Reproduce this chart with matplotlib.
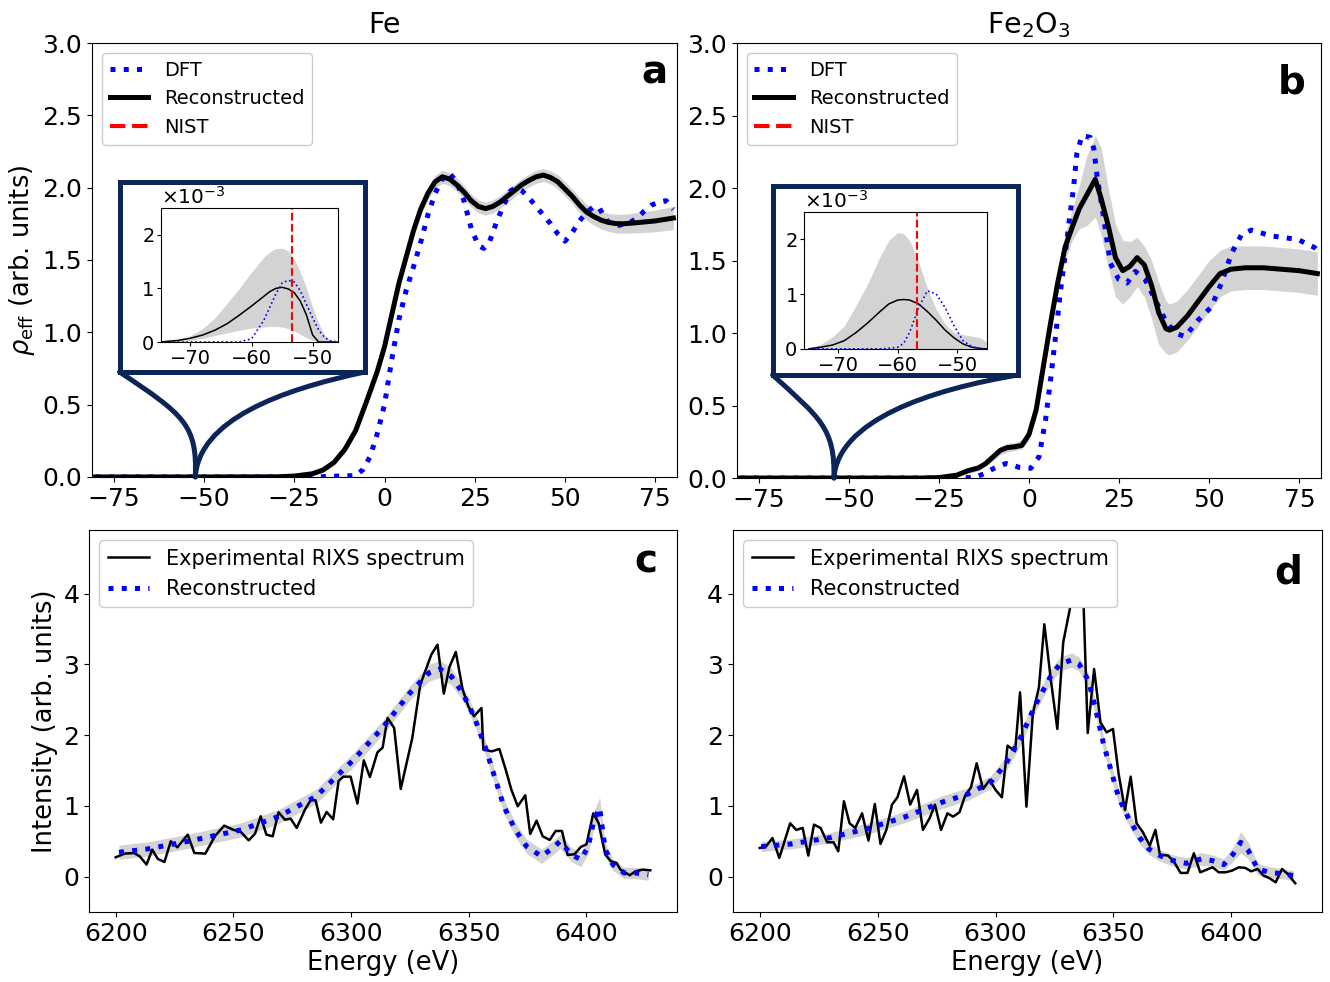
import numpy as np
import matplotlib
matplotlib.use('Agg')
import matplotlib.pyplot as plt
from matplotlib.patches import Rectangle, PathPatch
from matplotlib.path import Path
from matplotlib.lines import Line2D

plt.rcParams['font.family'] = ['DejaVu Sans']

# ---------------- Panel a : Fe ----------------
fe_x = [-80, -50, -30, -25, -20, -17, -14, -11, -8, -5, -2, 0, 2, 4, 6, 8, 10, 12, 14, 16,
        18, 20, 22, 24, 26, 28, 30, 32, 34, 36, 38, 40, 42, 44, 46, 48, 50, 52, 54, 56,
        58, 60, 62, 64, 66, 70, 75, 80]
fe_rec = [0, 0, 0.001, 0.006, 0.022, 0.048, 0.1, 0.19, 0.32, 0.52, 0.73, 0.9, 1.12, 1.34, 1.52,
          1.7, 1.85, 1.96, 2.04, 2.075, 2.06, 2.02, 1.97, 1.91, 1.87, 1.855, 1.87, 1.9, 1.94,
          1.98, 2.02, 2.05, 2.075, 2.087, 2.07, 2.04, 1.99, 1.94, 1.88, 1.83, 1.8, 1.775,
          1.76, 1.752, 1.75, 1.758, 1.77, 1.79]
fe_band = [0, 0, 0, 0.003, 0.008, 0.01, 0.015, 0.02, 0.02, 0.025, 0.03, 0.03, 0.035, 0.035,
           0.04, 0.04, 0.04, 0.045, 0.045, 0.045, 0.045, 0.045, 0.045, 0.045, 0.045, 0.045,
           0.045, 0.045, 0.045, 0.045, 0.045, 0.045, 0.045, 0.045, 0.045, 0.05, 0.05, 0.05,
           0.055, 0.055, 0.06, 0.06, 0.062, 0.065, 0.065, 0.07, 0.075, 0.08]
fe_dft_x = [-80, -20, -8, -6, -4, -2, 0, 2, 4, 6, 8, 10, 12, 14, 16, 18, 20, 22, 24, 26,
            27.5, 29, 31, 33, 35, 36.5, 38, 40, 42, 44, 46, 48, 50, 52, 54, 56, 58, 59.5,
            61, 63, 65, 68, 70, 72, 74, 76, 78, 80]
fe_dft = [0, 0, 0.01, 0.05, 0.14, 0.3, 0.5, 0.81, 1.09, 1.29, 1.45, 1.62, 1.81, 1.96, 2.06,
          2.1, 2.04, 1.91, 1.72, 1.6, 1.58, 1.62, 1.76, 1.88, 1.98, 2.0, 1.98, 1.93, 1.87,
          1.81, 1.75, 1.68, 1.63, 1.69, 1.77, 1.83, 1.87, 1.86, 1.79, 1.74, 1.74, 1.76,
          1.79, 1.84, 1.88, 1.9, 1.91, 1.85]

# inset a (values in units of 1e-3)
ins_a_x = [-75, -72, -70, -68, -66, -64, -62, -60, -58, -57, -56, -55, -54, -53, -52, -51,
           -50, -49, -48, -47, -46]
ins_a_rec = [0, 0.03, 0.07, 0.13, 0.22, 0.34, 0.5, 0.67, 0.85, 0.94, 1.0, 1.02, 0.99, 0.92,
             0.76, 0.5, 0.13, 0, 0, 0, 0]
ins_a_hi = [0, 0.05, 0.12, 0.25, 0.45, 0.72, 1.0, 1.3, 1.58, 1.68, 1.74, 1.75, 1.7, 1.55,
            1.3, 1.0, 0.65, 0.35, 0.12, 0.02, 0]
ins_a_lo = [0, 0.01, 0.03, 0.07, 0.12, 0.17, 0.22, 0.26, 0.28, 0.29, 0.29, 0.28, 0.25, 0.2,
            0.14, 0.08, 0.03, 0, 0, 0, 0]
ins_a_dft = [0, 0, 0, 0, 0, 0, 0, 0.06, 0.4, 0.65, 0.9, 1.1, 1.15, 1.12, 0.95, 0.7, 0.45,
             0.22, 0.08, 0.02, 0]
nist_a = -53.3
tip_a = -52.4

# ---------------- Panel b : Fe2O3 ----------------
fo_x = [-80, -30, -25, -20, -17, -14, -12, -10, -8, -6, -4, -2, 0, 2, 4, 6, 8, 10, 12, 14,
        16, 18.4, 20, 22, 24, 26, 28, 30, 32, 34, 36, 38, 39, 41, 44, 47, 50, 53, 56, 60,
        65, 70, 75, 80]
fo_rec = [0, 0, 0.003, 0.02, 0.05, 0.07, 0.1, 0.145, 0.19, 0.21, 0.215, 0.225, 0.3, 0.47,
          0.77, 1.07, 1.35, 1.59, 1.73, 1.86, 1.95, 2.06, 1.93, 1.74, 1.52, 1.43, 1.46, 1.52,
          1.47, 1.33, 1.14, 1.03, 1.02, 1.04, 1.12, 1.22, 1.32, 1.41, 1.44, 1.45, 1.45, 1.44,
          1.43, 1.41]
fo_lo = [0, 0, 0, 0.01, 0.03, 0.05, 0.08, 0.12, 0.16, 0.18, 0.19, 0.2, 0.26, 0.42, 0.7, 1.0,
         1.28, 1.5, 1.64, 1.72, 1.74, 1.8, 1.68, 1.45, 1.25, 1.2, 1.25, 1.32, 1.25, 1.1, 0.92,
         0.86, 0.85, 0.87, 0.95, 1.05, 1.15, 1.25, 1.29, 1.3, 1.3, 1.29, 1.28, 1.26]
fo_hi = [0, 0, 0.01, 0.03, 0.07, 0.09, 0.12, 0.17, 0.22, 0.24, 0.245, 0.26, 0.34, 0.53, 0.84,
         1.15, 1.43, 1.68, 1.85, 2.02, 2.22, 2.36, 2.28, 2.0, 1.75, 1.64, 1.63, 1.66, 1.6, 1.5,
         1.35, 1.22, 1.2, 1.22, 1.3, 1.4, 1.5, 1.57, 1.6, 1.6, 1.6, 1.59, 1.58, 1.56]
fo_dft_x = [-80, -20, -15, -12.4, -9.7, -6.4, -4, -2.8, 0.5, 2.8, 4.6, 6, 7.4, 8.7, 10.1, 11,
            12.4, 13.3, 14.7, 17, 18, 18.9, 20.7, 22.6, 24.9, 27.2, 29.5, 32.2, 35, 37.8,
            40.5, 43.3, 47, 50.6, 53.4, 56.2, 59, 61.7, 67.2, 74.6, 79.2, 80]
fo_dft = [0, 0, 0.005, 0.03, 0.067, 0.10, 0.085, 0.074, 0.067, 0.147, 0.40, 0.68, 0.98, 1.28,
          1.55, 1.74, 2.01, 2.24, 2.36, 2.35, 2.27, 2.08, 1.80, 1.48, 1.37, 1.345, 1.425,
          1.37, 1.23, 1.09, 1.0, 0.976, 1.09, 1.18, 1.345, 1.55, 1.68, 1.71, 1.67, 1.645,
          1.59, 1.57]

ins_b_x = [-75, -73, -71, -69, -67, -65, -63, -61.5, -60, -59, -58, -56.5, -55, -53.5, -52,
           -50.5, -49, -47.5, -46, -45]
ins_b_hi = [0.02, 0.08, 0.22, 0.42, 0.8, 1.2, 1.68, 1.98, 2.12, 2.1, 1.98, 1.6, 1.1, 0.72,
            0.45, 0.3, 0.26, 0.23, 0.2, 0.12]
ins_b_lo = [0] * 20
ins_b_rec = [0, 0.03, 0.07, 0.15, 0.3, 0.48, 0.68, 0.82, 0.89, 0.9, 0.89, 0.82, 0.68, 0.52,
             0.34, 0.2, 0.09, 0.03, 0.005, 0]
ins_b_dft = [0, 0, 0, 0, 0, 0, 0, 0.01, 0.03, 0.1, 0.3, 0.75, 1.06, 1.0, 0.75, 0.42, 0.15,
             0.04, 0, 0]
nist_b = -56.8
tip_b = -54.1

# ---------------- Panel c : Fe RIXS ----------------
c_x = [6200.0, 6203.8, 6207.8, 6210.2, 6213.1, 6215.5, 6217.9, 6220.7, 6223.4, 6226.2,
       6230.6, 6233.4, 6238.1, 6242.1, 6246.1, 6249.8, 6253.3, 6256.5, 6259.2, 6261.6,
       6264.0, 6266.7, 6269.2, 6271.9, 6274.3, 6276.9, 6280.4, 6282.8, 6284.9, 6287.2,
       6289.6, 6292.4, 6294.7, 6296.7, 6299.8, 6302.7, 6305.4, 6308.0, 6311.2, 6313.4,
       6315.5, 6318.3, 6321.1, 6326.0, 6329.4, 6334.1, 6336.7, 6339.4, 6341.8, 6344.5,
       6347.4, 6349.8, 6352.2, 6355.4, 6356.2, 6359.8, 6363.0, 6365.7, 6368.1, 6370.8,
       6374.0, 6376.1, 6378.8, 6381.4, 6384.4, 6386.9, 6389.6, 6392.0, 6394.9, 6397.6,
       6400.0, 6402.9, 6405.1, 6408.0, 6410.4, 6412.8, 6414.4, 6418.4, 6420.8, 6423.9, 6427.1]
c_y = [0.273, 0.325, 0.334, 0.287, 0.170, 0.382, 0.250, 0.207, 0.499, 0.414,
       0.593, 0.334, 0.325, 0.570, 0.721, 0.664, 0.626, 0.513, 0.607, 0.853,
       0.594, 0.570, 0.909, 0.805, 0.820, 0.688, 0.947, 1.079, 1.079, 0.763,
       0.914, 0.810, 1.352, 1.413, 1.413, 1.032, 1.644, 1.408, 1.757, 1.823,
       2.243, 2.101, 1.239, 1.960, 2.714, 3.138, 3.279, 2.587, 2.964, 3.176,
       2.643, 2.408, 2.266, 2.384, 1.795, 1.771, 1.804, 1.512, 1.229, 0.994,
       1.149, 0.603, 0.791, 0.570, 0.518, 0.645, 0.645, 0.306, 0.316, 0.419,
       0.457, 0.895, 0.763, 0.311, 0.217, 0.193, 0.099, 0.019, 0.075, 0.099, 0.089]
c_rec_x = [6201.4, 6213.4, 6230.9, 6253.3, 6269.2, 6285.2, 6301.1, 6313.9, 6325.0, 6333.0,
           6337.8, 6342.6, 6347.4, 6352.2, 6356.9, 6360.9, 6364.9, 6369.7, 6374.5, 6380.9,
           6385.7, 6388.8, 6393.6, 6397.6, 6400.8, 6403.2, 6405.6, 6408.0, 6411.2, 6416.0,
           6420.8, 6426.3]
c_rec = [0.344, 0.39, 0.50, 0.66, 0.85, 1.135, 1.654, 2.125, 2.596, 2.879, 2.935, 2.83, 2.596,
         2.266, 1.842, 1.418, 0.994, 0.664, 0.429, 0.287, 0.405, 0.499, 0.311, 0.24, 0.429,
         0.806, 0.971, 0.382, 0.17, 0.052, 0.052, 0.028]
c_band = [0.1, 0.1, 0.1, 0.1, 0.1, 0.1, 0.1, 0.1, 0.1, 0.12, 0.12, 0.12, 0.1, 0.1, 0.1, 0.1,
          0.1, 0.1, 0.1, 0.1, 0.1, 0.1, 0.1, 0.1, 0.1, 0.12, 0.15, 0.1, 0.08, 0.08, 0.08, 0.08]

# ---------------- Panel d : Fe2O3 RIXS ----------------
d_x = [6200.0, 6202.6, 6205.4, 6208.3, 6212.9, 6215.5, 6218.2, 6220.6, 6223.0, 6225.8,
       6228.6, 6231.3, 6233.3, 6235.7, 6238.1, 6240.5, 6243.4, 6246.1, 6248.8, 6251.2,
       6253.7, 6256.1, 6258.4, 6261.2, 6263.8, 6266.7, 6269.2, 6272.1, 6274.3, 6276.9,
       6279.6, 6282.0, 6284.7, 6287.1, 6289.6, 6292.0, 6294.7, 6297.5, 6300.0, 6302.7,
       6305.1, 6308.3, 6310.4, 6313.1, 6315.8, 6318.4, 6320.7, 6323.5, 6326.2, 6328.7,
       6331.9, 6334.5, 6337.0, 6339.1, 6341.8, 6344.5, 6347.1, 6349.8, 6352.2, 6354.9,
       6357.3, 6359.8, 6362.5, 6365.4, 6367.8, 6369.7, 6373.2, 6375.8, 6378.5, 6381.4,
       6384.1, 6386.8, 6389.6, 6392.0, 6394.7, 6397.6, 6400.3, 6403.2, 6405.9, 6408.4,
       6411.2, 6413.6, 6416.0, 6418.8, 6421.5, 6423.9, 6427.1]
d_y = [0.405, 0.424, 0.546, 0.264, 0.754, 0.66, 0.688, 0.297, 0.735, 0.688,
       0.485, 0.485, 0.358, 1.065, 0.754, 0.688, 0.895, 0.509, 1.027, 0.462,
       0.66, 1.018, 1.121, 1.418, 1.018, 1.225, 0.66, 0.829, 1.018, 0.66,
       0.895, 0.848, 0.909, 1.145, 1.263, 1.602, 1.239, 1.366, 1.225, 1.121,
       1.852, 1.772, 2.605, 0.989, 2.3, 2.676, 3.567, 2.77, 2.087, 3.312,
       3.85, 4.45, 4.2, 2.03, 2.935, 2.18, 2.04, 2.087, 1.451, 0.942,
       1.413, 0.754, 0.627, 0.438, 0.66, 0.311, 0.297, 0.203, 0.052, 0.052,
       0.33, 0.061, 0.099, 0.132, 0.061, 0.061, 0.085, 0.132, 0.123, 0.075,
       0.108, 0.014, -0.019, -0.08, 0.108, 0.038, -0.094]
d_rec_x = [6200.6, 6213.4, 6229.3, 6245.3, 6261.2, 6277.2, 6288.4, 6297.9, 6304.3, 6310.7,
           6317.1, 6323.5, 6327.4, 6332.2, 6335.4, 6339.4, 6342.6, 6345.8, 6349.0, 6352.2,
           6356.2, 6361.0, 6365.0, 6369.7, 6375.3, 6380.9, 6387.3, 6392.0, 6396.8, 6400.8,
           6404.0, 6407.2, 6411.2, 6416.0, 6422.3, 6426.3]
d_rec = [0.424, 0.462, 0.547, 0.674, 0.839, 1.05, 1.168, 1.333, 1.592, 1.969, 2.44, 2.84,
         3.006, 3.062, 3.006, 2.77, 2.346, 1.875, 1.498, 1.121, 0.839, 0.556, 0.391, 0.297,
         0.226, 0.188, 0.25, 0.226, 0.17, 0.32, 0.485, 0.367, 0.108, 0.061, 0.038, 0.014]
d_band = [0.07, 0.07, 0.07, 0.08, 0.08, 0.09, 0.09, 0.09, 0.1, 0.1, 0.1, 0.1, 0.1, 0.1, 0.1,
          0.1, 0.1, 0.1, 0.1, 0.1, 0.09, 0.09, 0.08, 0.08, 0.08, 0.08, 0.09, 0.08, 0.08, 0.1,
          0.15, 0.12, 0.08, 0.08, 0.07, 0.07]

top_xticks = [-75, -50, -25, 0, 25, 50, 75]
top_yticks = [0.0, 0.5, 1.0, 1.5, 2.0, 2.5, 3.0]
bot_xticks = [6200, 6250, 6300, 6350, 6400]
bot_yticks = [0, 1, 2, 3, 4]

NAVY = '#0b2559'
GRAY = '#d3d3d3'
TICK_FS = 18
LAB_FS = 18.5
TITLE_FS = 20.5

fig = plt.figure(figsize=(13.3, 9.82), dpi=100)
ax_a = fig.add_axes([0.0692, 0.5143, 0.4398, 0.4419])
ax_b = fig.add_axes([0.5541, 0.5132, 0.4391, 0.4430])
ax_c = fig.add_axes([0.0669, 0.0713, 0.4421, 0.3890])
ax_d = fig.add_axes([0.5511, 0.0713, 0.4429, 0.3890])

XLIM_TOP = (-81, 81)


def curve(p0, p1, p2, p3, ax):
    path = Path([p0, p1, p2, p3], [Path.MOVETO, Path.CURVE4, Path.CURVE4, Path.CURVE4])
    ax.add_patch(PathPatch(path, transform=ax.transAxes, fc='none', ec=NAVY, lw=3.6,
                           clip_on=False, zorder=6, capstyle='round', joinstyle='round'))


def top_panel(ax, x, rec, lo, hi, dx, dft, title, letter, letter_xy, box, ins_pos,
              ix, irec, ilo, ihi, idft, nist, tip, ctrlL, ctrlR, ins_xlim):
    ax.fill_between(x, lo, hi, color=GRAY, lw=0, zorder=1)
    ax.plot(x, rec, color='black', lw=3.6, zorder=3)
    ax.plot(dx, dft, color='blue', lw=3.6, ls=':', zorder=2)
    ax.set_xlim(*XLIM_TOP)
    ax.set_ylim(0, 3.0)
    ax.set_xticks(top_xticks)
    ax.set_yticks(top_yticks)
    ax.tick_params(labelsize=TICK_FS)
    ax.set_title(title, fontsize=TITLE_FS, pad=7)
    handles = [Line2D([], [], color='blue', ls=':', lw=3.6),
               Line2D([], [], color='black', lw=3.6),
               Line2D([], [], color='red', ls='--', lw=3)]
    ax.legend(handles, ['DFT', 'Reconstructed', 'NIST'], loc='upper left', fontsize=14,
              framealpha=1)
    ax.text(letter_xy[0], letter_xy[1], letter, transform=ax.transAxes, fontsize=28,
            fontweight='bold', ha='right', va='baseline')
    # box
    bx0, by0, bx1, by1 = box
    ax.add_patch(Rectangle((bx0, by0), bx1 - bx0, by1 - by0, transform=ax.transAxes,
                           fc='white', ec=NAVY, lw=3.6, zorder=6, clip_on=False))
    tipf = ((tip - XLIM_TOP[0]) / (XLIM_TOP[1] - XLIM_TOP[0]), 0.0)
    curve((bx0, by0), ctrlL[0], ctrlL[1], tipf, ax)
    curve((bx1, by0), ctrlR[0], ctrlR[1], tipf, ax)
    # inset
    ia = ax.inset_axes(ins_pos, zorder=7)
    s = 1e-3
    ia.fill_between(ix, np.array(ilo) * s, np.array(ihi) * s, color=GRAY, lw=0)
    ia.plot(ix, np.array(irec) * s, color='black', lw=1.1)
    ia.plot(ix, np.array(idft) * s, color='blue', lw=1.2, ls=':')
    ia.axvline(nist, color='red', ls='--', lw=1.5)
    ia.set_xlim(*ins_xlim)
    ia.set_ylim(0, 2.5e-3)
    ia.set_xticks([-70, -60, -50])
    ia.set_yticks([0, 1e-3, 2e-3])
    ia.ticklabel_format(axis='y', style='sci', scilimits=(0, 0), useMathText=True)
    ia.yaxis.get_offset_text().set_fontsize(14.5)
    ia.tick_params(labelsize=14, length=3, pad=2)


top_panel(ax_a, fe_x, fe_rec,
          np.array(fe_rec) - np.array(fe_band), np.array(fe_rec) + np.array(fe_band),
          fe_dft_x, fe_dft, 'Fe', 'a', (0.983, 0.906),
          (0.047, 0.242, 0.467, 0.680), [0.118, 0.311, 0.303, 0.309],
          ins_a_x, ins_a_rec, ins_a_lo, ins_a_hi, ins_a_dft, nist_a, tip_a,
          ((0.1575, 0.143), (0.18, 0.12)), ((0.32, 0.2), (0.183, 0.131)), (-74.8, -45.8))

top_panel(ax_b, fo_x, fo_rec, fo_lo, fo_hi, fo_dft_x, fo_dft, 'Fe$_2$O$_3$', 'b',
          (0.973, 0.885),
          (0.061, 0.237, 0.482, 0.671), [0.115, 0.297, 0.3136, 0.315],
          ins_b_x, ins_b_rec, ins_b_lo, ins_b_hi, ins_b_dft, nist_b, tip_b,
          ((0.142, 0.138), (0.168, 0.115)), ((0.33, 0.203), (0.173, 0.133)), (-75.8, -44.9))

ax_a.set_ylabel(r'$\rho_{\mathrm{eff}}$ (arb. units)', fontsize=LAB_FS)


def bottom_panel(ax, x, y, rx, rec, band, letter, letter_xy):
    rec = np.array(rec)
    band = np.array(band)
    ax.fill_between(rx, rec - band, rec + band, color=GRAY, lw=0, zorder=1)
    ax.plot(x, y, color='black', lw=1.8, zorder=2, label='Experimental RIXS spectrum')
    ax.plot(rx, rec, color='blue', lw=3.6, ls=':', zorder=3, label='Reconstructed')
    ax.set_ylim(-0.5, 4.9)
    ax.set_xticks(bot_xticks)
    ax.set_yticks(bot_yticks)
    ax.tick_params(labelsize=TICK_FS)
    ax.set_xlabel('Energy (eV)', fontsize=LAB_FS, labelpad=3)
    leg = ax.legend(loc='upper left', fontsize=15, framealpha=1)
    leg.set_zorder(10)
    ax.text(letter_xy[0], letter_xy[1], letter, transform=ax.transAxes, fontsize=28,
            fontweight='bold', ha='right', va='baseline')


bottom_panel(ax_c, c_x, c_y, c_rec_x, c_rec, c_band, 'c', (0.966, 0.89))
bottom_panel(ax_d, d_x, d_y, d_rec_x, d_rec, d_band, 'd', (0.966, 0.861))
ax_c.set_ylabel('Intensity (arb. units)', fontsize=LAB_FS)

fig.savefig('out.png', dpi=100)
